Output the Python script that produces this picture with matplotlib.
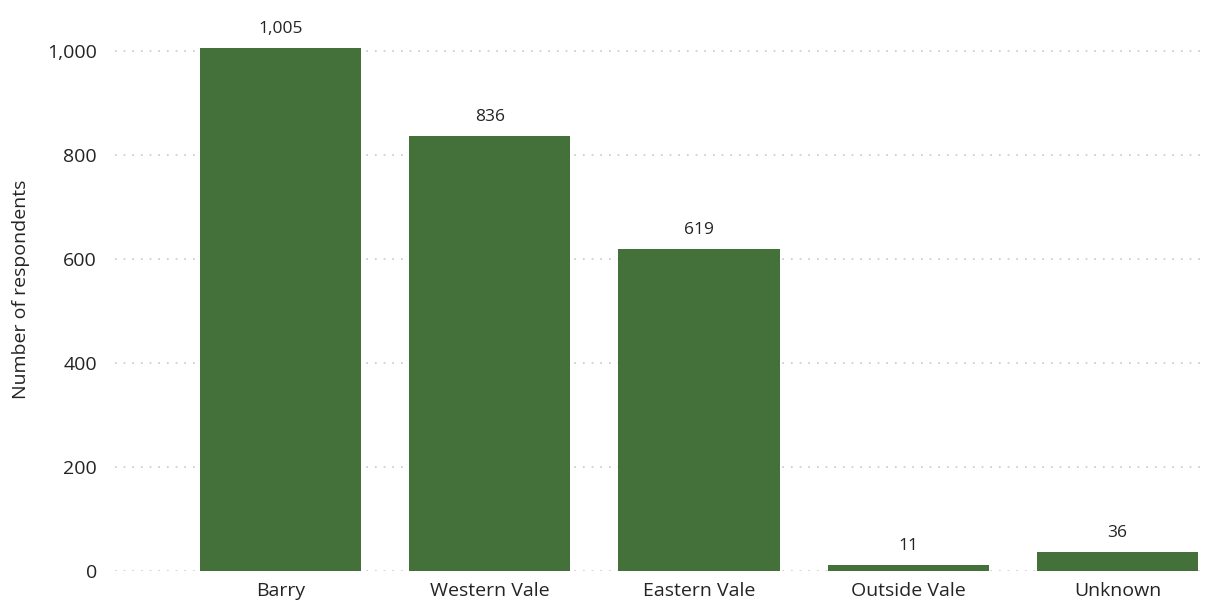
import matplotlib
matplotlib.use("Agg")
import matplotlib.pyplot as plt

categories = ["Barry", "Western Vale", "Eastern Vale", "Outside Vale", "Unknown"]
values = [1005, 836, 619, 11, 36]
yticks = [0, 200, 400, 600, 800, 1000]

plt.rcParams['font.family'] = ['Open Sans', 'DejaVu Sans']

fig = plt.figure(figsize=(12.06, 6.01), dpi=100)
ax = fig.add_axes([115/1206, 30/601, (1200-115)/1206, (571-25)/601])

x = list(range(len(categories)))
bars = ax.bar(x, values, width=0.77, color="#44703A", zorder=3)
for xi, v in zip(x, values):
    ax.annotate(f"{v:,}", (xi, v), xytext=(0, 8), textcoords="offset points",
                ha="center", va="bottom", fontsize=12.5, color="#252423")

ax.set_xlim(-0.792, 4.395)
ax.set_ylim(0, 1050)
ax.set_yticks(yticks)
ax.set_yticklabels([f"{t:,}" for t in yticks])
ax.set_xticks(x)
ax.set_xticklabels(categories)
ax.tick_params(axis="both", length=0, labelsize=14, colors="#252423")
ax.tick_params(axis="y", pad=13)
ax.tick_params(axis="x", pad=8)
ax.grid(axis="y", color="#c8c8c8", linestyle=(0, (1, 4.2)), linewidth=1.2, zorder=0)
for s in ax.spines.values():
    s.set_visible(False)
ax.set_ylabel("Number of respondents", fontsize=14, color="#252423")
ax.yaxis.set_label_coords(-0.078, 0.516)

fig.savefig("out.png", dpi=100)
